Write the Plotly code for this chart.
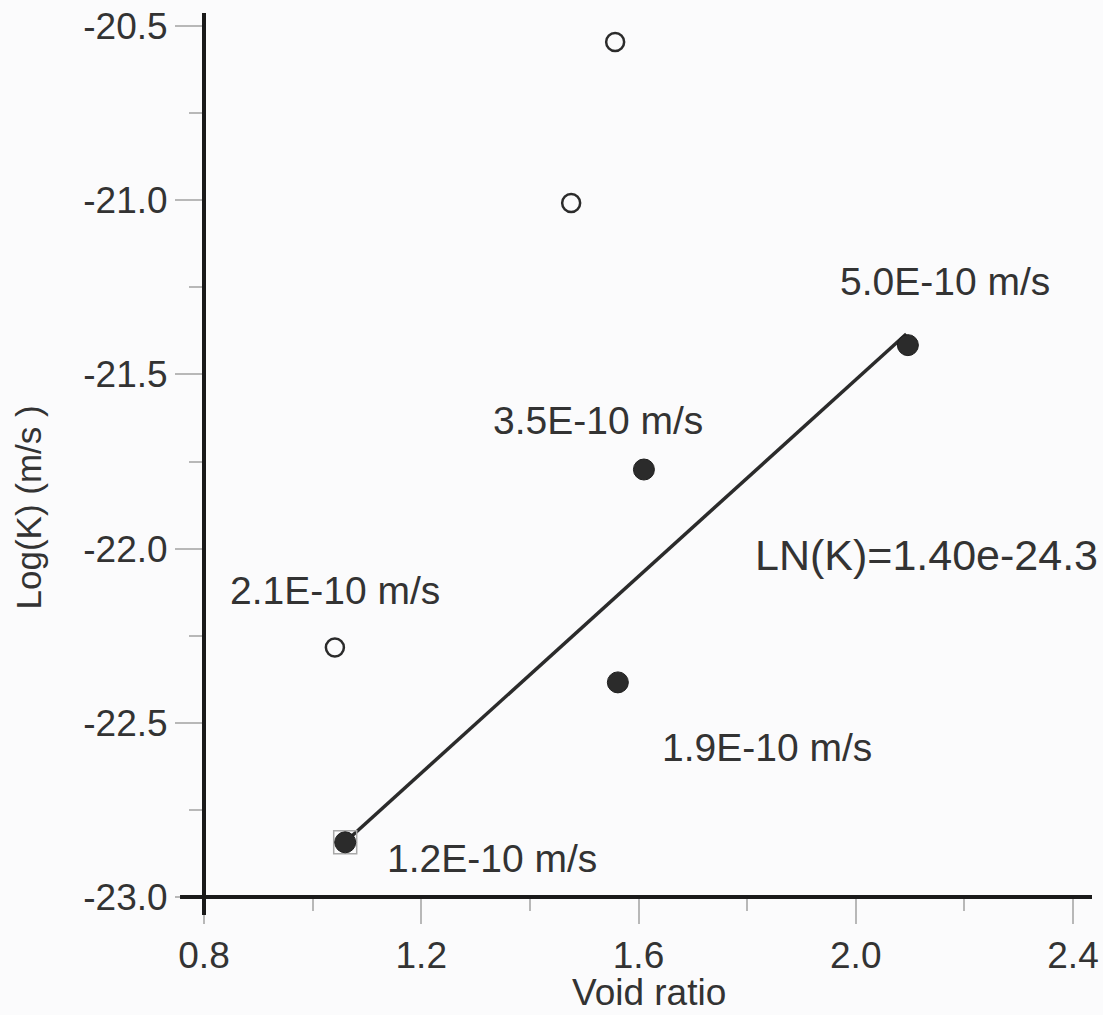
import plotly.graph_objects as go

# ---- data ----
open_x = [1.557, 1.476, 1.041]
open_y = [-20.546, -21.008, -22.284]

filled_x = [1.060, 1.562, 1.610, 2.096]
filled_y = [-22.843, -22.384, -21.773, -21.416]
filled_labels = ["1.2E-10 m/s", "1.9E-10 m/s", "3.5E-10 m/s", "5.0E-10 m/s"]
label_shift_x = [147, 149, -46, 37]
label_shift_y = [-16, -65, 49, 64]

open_label_index = 2
open_label = "2.1E-10 m/s"

fit_x = [1.060, 2.093]
fit_y = [-22.842, -21.384]
fit_text = "LN(K)=1.40e-24.3"

highlight_x = [1.060]
highlight_y = [-22.843]

x_ticks = [0.8, 1.2, 1.6, 2.0, 2.4]
y_ticks = [-23.0, -22.5, -22.0, -21.5, -21.0, -20.5]

x_title = "Void ratio"
y_title = "Log(K) (m/s )"

# ---- style ----
FONT = "Liberation Sans, Arial, Helvetica, sans-serif"
INK = "#2b2b2b"
TXT = "#333333"
BG = "#fbfbfc"
TICK = "#b8b8b8"

fig = go.Figure()

fig.add_trace(go.Scatter(
    x=fit_x, y=fit_y, mode="lines",
    line=dict(color=INK, width=3.5), hoverinfo="skip", showlegend=False))

fig.add_trace(go.Scatter(
    x=highlight_x, y=highlight_y, mode="markers",
    marker=dict(symbol="square-open", size=23, color="#a8a8a8", line=dict(width=1.5)),
    showlegend=False))

fig.add_trace(go.Scatter(
    x=open_x, y=open_y, mode="markers",
    marker=dict(symbol="circle", size=18, color=BG, line=dict(color=INK, width=2.5)),
    showlegend=False))

fig.add_trace(go.Scatter(
    x=filled_x, y=filled_y, mode="markers",
    marker=dict(symbol="circle", size=21, color=INK, line=dict(color="#1e1e1e", width=1)),
    showlegend=False))

annotations = []
for xv, yv, t, dx, dy in zip(filled_x, filled_y, filled_labels, label_shift_x, label_shift_y):
    annotations.append(dict(x=xv, y=yv, xref="x", yref="y", text=t, showarrow=False,
                            xshift=dx, yshift=dy, xanchor="center", yanchor="middle",
                            font=dict(family=FONT, size=39, color=TXT)))
annotations.append(dict(x=open_x[open_label_index], y=open_y[open_label_index], xref="x", yref="y",
                        text=open_label, showarrow=False, xshift=0, yshift=57,
                        xanchor="center", yanchor="middle",
                        font=dict(family=FONT, size=39, color=TXT)))
annotations.append(dict(x=1.811, y=-22.018, xref="x", yref="y", text=fit_text, showarrow=False,
                        xanchor="left", yanchor="middle",
                        font=dict(family=FONT, size=43, color=TXT)))
annotations.append(dict(x=-0.1978, y=0.441, xref="paper", yref="paper", text=y_title,
                        showarrow=False, textangle=-90, xanchor="center", yanchor="middle",
                        font=dict(family=FONT, size=35, color=TXT)))
annotations.append(dict(x=0.5011, y=-0.108, xref="paper", yref="paper", text=x_title,
                        showarrow=False, xanchor="center", yanchor="middle",
                        font=dict(family=FONT, size=37, color=TXT)))

shapes = [
    # y axis line (extends a little below the x axis)
    dict(type="line", xref="paper", yref="paper", x0=0.0, x1=0.0, y0=-0.0204, y1=1.0,
         line=dict(color="#1a1a1a", width=4), layer="above"),
    # x axis line (extends a little left of the y axis)
    dict(type="line", xref="paper", yref="paper", x0=-0.027, x1=1.0, y0=0.0, y1=0.0,
         line=dict(color="#1a1a1a", width=4), layer="above"),
]

fig.update_layout(
    width=1103, height=1015,
    margin=dict(l=204, r=11, t=13, b=118, autoexpand=False),
    paper_bgcolor=BG, plot_bgcolor=BG,
    font=dict(family=FONT, color=TXT),
    annotations=annotations, shapes=shapes,
    showlegend=False,
)

fig.update_xaxes(
    range=[0.8, 2.435], showgrid=False, zeroline=False, showline=False, automargin=False,
    tickmode="array", tickvals=x_ticks, ticktext=[f"{v:.1f}" for v in x_ticks],
    ticks="outside", ticklen=26, tickwidth=1.5, tickcolor=TICK,
    tickfont=dict(family=FONT, size=37, color=TXT),
    minor=dict(ticks="outside", ticklen=13, tickwidth=1.5, tickcolor=TICK, dtick=0.2, tick0=0.8),
)
fig.update_yaxes(
    range=[-23.0, -20.4627], showgrid=False, zeroline=False, showline=False, automargin=False,
    tickmode="array", tickvals=y_ticks, ticktext=[f"{v:.1f}" for v in y_ticks],
    ticks="outside", ticklen=28, tickwidth=1.5, tickcolor=TICK,
    tickfont=dict(family=FONT, size=37, color=TXT),
    minor=dict(ticks="outside", ticklen=14, tickwidth=1.5, tickcolor=TICK, dtick=0.25, tick0=-23.0),
)

fig.write_html("out.html")
